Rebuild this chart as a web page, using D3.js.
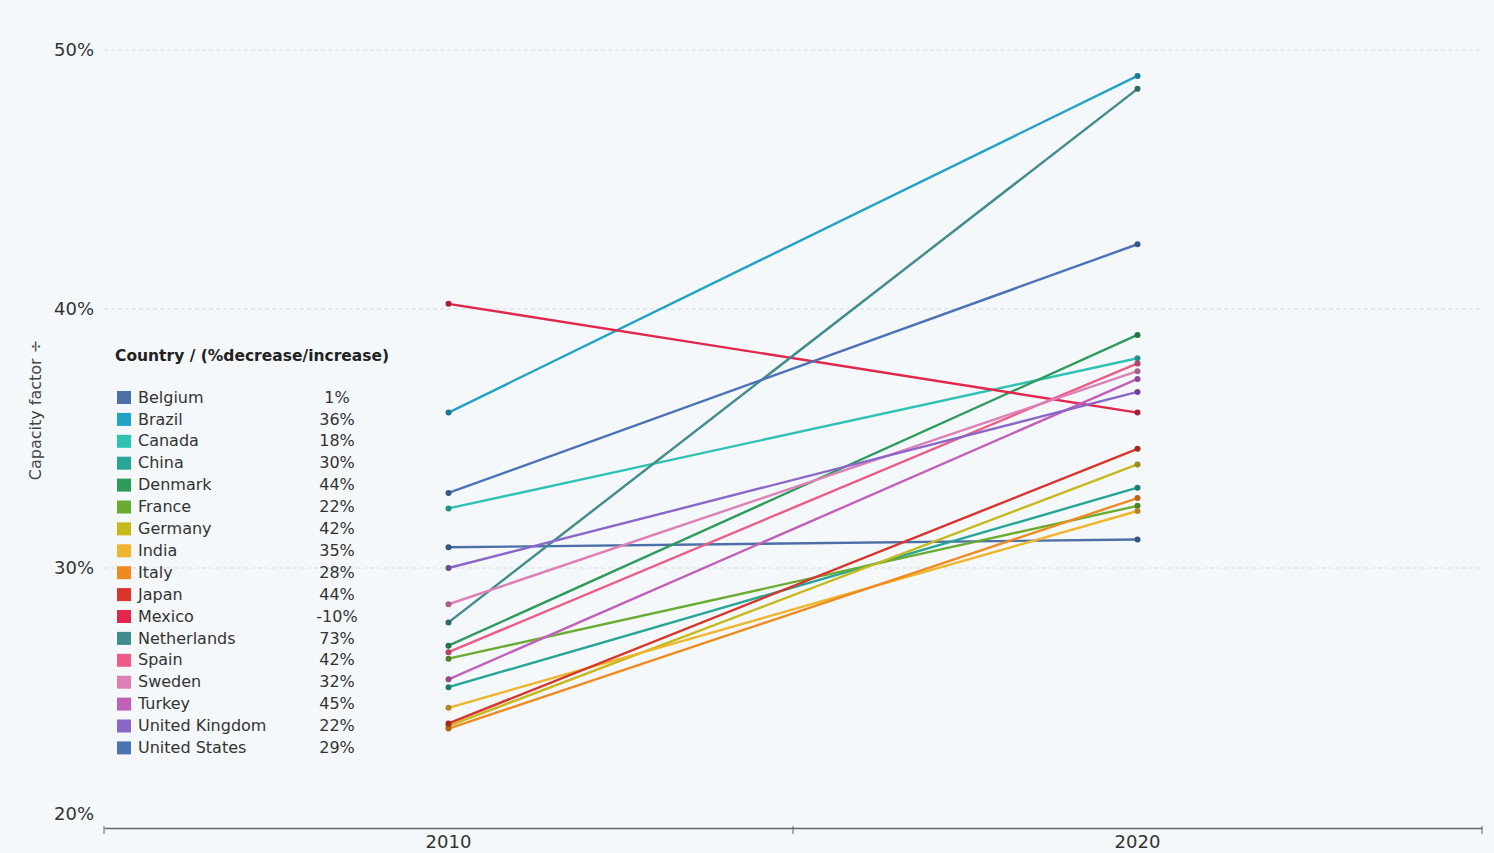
<!DOCTYPE html>
<html><head><meta charset="utf-8">
<script src="https://cdn.jsdelivr.net/npm/d3@7"></script>
<style>
html,body{margin:0;padding:0;background:#fff;}
svg{display:block;font-family:"DejaVu Sans",Arial,sans-serif;}
</style></head>
<body>
<svg id="chart" width="1494" height="853"></svg>
<script>
const years = ["2010", "2020"];
const countries = ["Belgium","Brazil","Canada","China","Denmark","France","Germany","India","Italy","Japan","Mexico","Netherlands","Spain","Sweden","Turkey","United Kingdom","United States"];
const values2010 = [30.8, 36.0, 32.3, 25.4, 27.0, 26.5, 23.9, 24.6, 23.8, 24.0, 40.2, 27.9, 26.75, 28.6, 25.7, 30.0, 32.9];
const values2020 = [31.1, 49.0, 38.1, 33.1, 39.0, 32.4, 34.0, 32.2, 32.7, 34.6, 36.0, 48.5, 37.9, 37.6, 37.3, 36.8, 42.5];
const changeLabels = ["1%","36%","18%","30%","44%","22%","42%","35%","28%","44%","-10%","73%","42%","32%","45%","22%","29%"];
const colors = ["#4b6fa6","#22a2c4","#2ec2b2","#27a595","#2e9a5c","#6aab32","#c7b91c","#efb52c","#f08a1f","#d8342b","#e2264c","#3f8c8a","#ee5c86","#de80b6","#c160b8","#8a66c8","#4c72b6"];
const yTicks = [20, 30, 40, 50];

const svg = d3.select("#chart");
svg.append("rect").attr("x",0).attr("y",0).attr("width",1494).attr("height",853).attr("fill","#f4f8fb");

const x = d3.scaleBand().domain(years).range([104, 1482]);
const y = d3.scaleLinear().domain([20, 50]).range([827, 50]);

// gridlines
svg.append("g").selectAll("line").data(yTicks.filter(d => d > 20)).join("line")
  .attr("x1", 104).attr("x2", 1482)
  .attr("y1", d => y(d)).attr("y2", d => y(d))
  .attr("stroke", "#d6dbe0").attr("stroke-width", 1).attr("stroke-dasharray", "4,3");

// y tick labels
svg.append("g").selectAll("text").data(yTicks).join("text")
  .attr("x", 94)
  .attr("y", d => y(d) + (d === 20 ? -13 : 0))
  .attr("dy", "0.35em")
  .attr("text-anchor", "end")
  .attr("font-size", 18)
  .attr("fill", "#333")
  .text(d => d + "%");

// y axis title
svg.append("text")
  .attr("transform", "translate(41,410) rotate(-90)")
  .attr("text-anchor", "middle")
  .attr("font-size", 16)
  .attr("fill", "#444")
  .text("Capacity factor ÷");

// x axis
const xAxis = d3.axisBottom(x).tickSize(0).tickPadding(7);
const gx = svg.append("g").attr("transform", "translate(0,828)").call(xAxis);
gx.select(".domain").attr("stroke", "#666").attr("stroke-width", 1.5);
gx.selectAll("text").attr("font-size", 18).attr("fill", "#333").attr("font-family", "DejaVu Sans, Arial, sans-serif");
// band boundary ticks
const bounds = [x.range()[0], x(years[1]), x.range()[1]];
svg.append("g").selectAll("line").data(bounds).join("line")
  .attr("x1", d => d).attr("x2", d => d)
  .attr("y1", 826).attr("y2", 834)
  .attr("stroke", "#666").attr("stroke-width", 1);

const cx = yr => x(yr) + x.bandwidth() / 2;

// lines
const data = countries.map((c, i) => ({name: c, v: [values2010[i], values2020[i]], color: colors[i], label: changeLabels[i]}));
const lineGen = d3.line().x((d, i) => cx(years[i])).y(d => y(d));
svg.append("g").selectAll("path").data(data).join("path")
  .attr("d", d => lineGen(d.v))
  .attr("fill", "none")
  .attr("stroke", d => d.color)
  .attr("stroke-width", 2.4);

// points
const pts = svg.append("g");
data.forEach(d => {
  d.v.forEach((v, i) => {
    pts.append("circle")
      .attr("cx", cx(years[i])).attr("cy", y(v)).attr("r", 3)
      .attr("fill", d3.color(d.color).darker(0.8));
  });
});

// legend
const lg = svg.append("g");
lg.append("text").attr("x", 115).attr("y", 361)
  .attr("font-size", 15.5).attr("font-weight", "bold").attr("fill", "#222")
  .text("Country / (%decrease/increase)");
const items = lg.selectAll("g.item").data(data).join("g")
  .attr("class", "item")
  .attr("transform", (d, i) => `translate(0,${397 + i * 21.9})`);
items.append("rect").attr("x", 117).attr("y", -6).attr("width", 14).attr("height", 13)
  .attr("fill", d => d.color);
items.append("text").attr("x", 138).attr("y", 0).attr("dy", "0.35em")
  .attr("font-size", 16).attr("fill", "#333").text(d => d.name);
items.append("text").attr("x", 337).attr("y", 0).attr("dy", "0.35em")
  .attr("text-anchor", "middle")
  .attr("font-size", 16).attr("fill", "#333").text(d => d.label);
</script>
</body></html>
